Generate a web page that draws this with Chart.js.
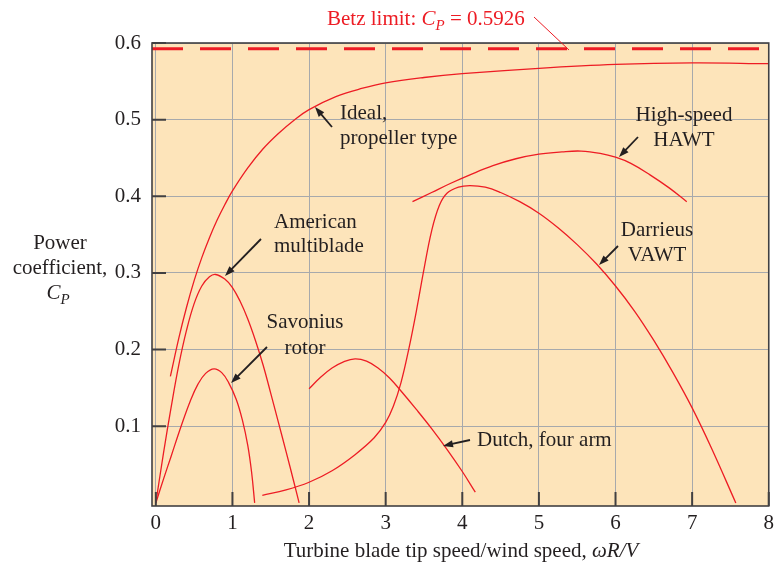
<!DOCTYPE html>
<html>
<head>
<meta charset="utf-8">
<script src="https://cdn.jsdelivr.net/npm/chart.js@4.4.1/dist/chart.umd.min.js"></script>
<style>
  html, body { margin: 0; padding: 0; background: #fff; }
</style>
</head>
<body>
<canvas id="cpChart" width="779" height="566"></canvas>
<script>
// axis ticks
const tipSpeedTicks = [0, 1, 2, 3, 4, 5, 6, 7, 8];
const cpTicks = [0.1, 0.2, 0.3, 0.4, 0.5, 0.6];

// Betz limit
const betzCp = 0.5926;

// curves (x = wR/V, y = Cp)
const idealX = [0.19, 0.3, 0.4, 0.5, 0.6, 0.7, 0.8, 0.9, 1.0, 1.2, 1.4, 1.6, 1.8, 2.0, 2.35, 2.7, 3.0, 3.5, 4.0, 5.0, 6.0, 7.0, 8.0];
const idealY = [0.165, 0.215, 0.255, 0.29, 0.32, 0.346, 0.369, 0.389, 0.407, 0.437, 0.462, 0.482, 0.499, 0.513, 0.53, 0.541, 0.548, 0.555, 0.56, 0.567, 0.572, 0.574, 0.573];

const multibladeX = [0, 0.1, 0.2, 0.3, 0.4, 0.5, 0.6, 0.7, 0.78, 0.9, 1.0, 1.1, 1.2, 1.3, 1.4, 1.5, 1.6, 1.7, 1.8, 1.87];
const multibladeY = [0, 0.065, 0.125, 0.18, 0.225, 0.26, 0.283, 0.295, 0.298, 0.292, 0.281, 0.263, 0.24, 0.212, 0.18, 0.143, 0.105, 0.067, 0.028, 0];

const savoniusX = [0, 0.1, 0.2, 0.33, 0.45, 0.55, 0.65, 0.76, 0.86, 0.95, 1.05, 1.13, 1.2, 1.25, 1.29];
const savoniusY = [0, 0.031, 0.061, 0.1, 0.133, 0.155, 0.169, 0.175, 0.17, 0.157, 0.135, 0.108, 0.075, 0.04, 0];

const dutchX = [2.0, 2.15, 2.3, 2.45, 2.6, 2.75, 2.9, 3.05, 3.2, 3.4, 3.6, 3.8, 4.0, 4.17];
const dutchY = [0.149, 0.164, 0.176, 0.184, 0.188, 0.185, 0.176, 0.163, 0.146, 0.122, 0.097, 0.07, 0.041, 0.014];

const darrieusX = [1.39, 1.7, 2.0, 2.3, 2.6, 2.85, 3.0, 3.1, 3.2, 3.3, 3.4, 3.5, 3.6, 3.7, 3.8, 3.95, 4.1, 4.3, 4.5, 4.75, 5.0, 5.25, 5.5, 5.75, 6.0, 6.25, 6.5, 6.75, 7.0, 7.25, 7.57];
const darrieusY = [0.01, 0.017, 0.027, 0.042, 0.063, 0.085, 0.105, 0.126, 0.157, 0.2, 0.25, 0.305, 0.355, 0.388, 0.404, 0.412, 0.414, 0.412, 0.405, 0.393, 0.378, 0.359, 0.337, 0.312, 0.283, 0.25, 0.212, 0.17, 0.124, 0.072, 0];

const hawtX = [3.35, 3.6, 3.85, 4.1, 4.4, 4.7, 5.0, 5.3, 5.55, 5.8, 6.0, 6.2, 6.45, 6.7, 6.93];
const hawtY = [0.393, 0.405, 0.417, 0.428, 0.44, 0.449, 0.455, 0.458, 0.459, 0.456, 0.451, 0.443, 0.428, 0.411, 0.393];

const xMin = -0.05, xMax = 8;
const yMin = -0.004, yMax = 0.6;

const RED = '#ed1c24';
const INK = '#231f20';
const PAPER = '#fde4ba';
const GRID = '#a7a9ac';
const FONT = "'Liberation Serif', 'Times New Roman', serif";
const FS = 21;

const toPoints = (xs, ys) => xs.map((x, i) => ({ x: x, y: ys[i] }));

function curve(xs, ys) {
  return {
    data: toPoints(xs, ys),
    borderColor: RED,
    borderWidth: 1.3,
    pointRadius: 0,
    fill: false,
    showLine: true,
    tension: 0.4
  };
}

// draw a line of text made of runs (some italic / subscript)
function drawRuns(ctx, runs, x, y, align, color) {
  const fontOf = r => (r.italic ? 'italic ' : '') + (r.sub ? Math.round(FS * 0.72) : FS) + 'px ' + FONT;
  let total = 0;
  runs.forEach(r => { ctx.font = fontOf(r); total += ctx.measureText(r.t).width; });
  let cx = align === 'center' ? x - total / 2 : x;
  ctx.fillStyle = color;
  ctx.textAlign = 'left';
  ctx.textBaseline = 'alphabetic';
  runs.forEach(r => {
    ctx.font = fontOf(r);
    ctx.fillText(r.t, cx, r.sub ? y + 5 : y);
    cx += ctx.measureText(r.t).width;
  });
}

function arrow(ctx, x1, y1, x2, y2) {
  const a = Math.atan2(y2 - y1, x2 - x1);
  const len = 10, wid = 3.6;
  ctx.beginPath();
  ctx.moveTo(x1, y1);
  ctx.lineTo(x2 - len * 0.7 * Math.cos(a), y2 - len * 0.7 * Math.sin(a));
  ctx.stroke();
  ctx.beginPath();
  ctx.moveTo(x2, y2);
  ctx.lineTo(x2 - len * Math.cos(a) + wid * Math.sin(a), y2 - len * Math.sin(a) - wid * Math.cos(a));
  ctx.lineTo(x2 - len * Math.cos(a) - wid * Math.sin(a), y2 - len * Math.sin(a) + wid * Math.cos(a));
  ctx.closePath();
  ctx.fill();
}

const notes = [
  { lines: ['Ideal,', 'propeller type'], x: 340, y: 119, dy: 24.5, align: 'left', arrow: [332, 127, 315, 107] },
  { lines: ['High-speed', 'HAWT'], x: 684, y: 121, dy: 25, align: 'center', arrow: [638, 137, 619, 157] },
  { lines: ['Darrieus', 'VAWT'], x: 657, y: 236, dy: 25, align: 'center', arrow: [618, 246, 599, 265] },
  { lines: ['American', 'multiblade'], x: 274, y: 228, dy: 24, align: 'left', arrow: [261, 239, 225, 276] },
  { lines: ['Savonius', 'rotor'], x: 305, y: 328, dy: 25.5, align: 'center', arrow: [267, 347, 231, 383] },
  { lines: ['Dutch, four arm'], x: 477, y: 446, dy: 0, align: 'left', arrow: [470, 440, 443, 446] }
];

const paperPlugin = {
  id: 'paper',
  beforeDraw(chart) {
    const { ctx, chartArea: a } = chart;
    ctx.save();
    ctx.fillStyle = '#fff';
    ctx.fillRect(0, 0, chart.width, chart.height);
    ctx.fillStyle = PAPER;
    ctx.fillRect(a.left, a.top, a.right - a.left, a.bottom - a.top);
    ctx.restore();
  }
};

const framePlugin = {
  id: 'frame',
  afterDatasetsDraw(chart) {
    const { ctx, chartArea: a, scales } = chart;
    ctx.save();
    ctx.strokeStyle = '#414042';
    ctx.lineWidth = 2;
    // inward tick marks
    ctx.beginPath();
    tipSpeedTicks.forEach(v => {
      const px = scales.x.getPixelForValue(v);
      ctx.moveTo(px, a.bottom);
      ctx.lineTo(px, a.bottom - 14);
    });
    cpTicks.forEach(v => {
      const py = scales.y.getPixelForValue(v);
      ctx.moveTo(a.left, py);
      ctx.lineTo(a.left + 14, py);
    });
    ctx.stroke();
    ctx.lineWidth = 1.6;
    ctx.strokeRect(a.left, a.top, a.right - a.left, a.bottom - a.top);
    ctx.restore();
  }
};

const notesPlugin = {
  id: 'notes',
  afterDraw(chart) {
    const ctx = chart.ctx;
    ctx.save();
    ctx.lineWidth = 1.8;
    notes.forEach(n => {
      n.lines.forEach((t, i) => drawRuns(ctx, [{ t: t }], n.x, n.y + i * n.dy, n.align, INK));
      ctx.strokeStyle = INK;
      ctx.fillStyle = INK;
      arrow(ctx, n.arrow[0], n.arrow[1], n.arrow[2], n.arrow[3]);
    });

    // Betz label with leader
    drawRuns(ctx, [{ t: 'Betz limit: ' }, { t: 'C', italic: true }, { t: 'P', italic: true, sub: true }, { t: ' = 0.5926' }], 327, 25, 'left', RED);
    ctx.strokeStyle = RED;
    ctx.lineWidth = 1;
    ctx.beginPath();
    ctx.moveTo(534, 17);
    ctx.lineTo(569, 50);
    ctx.stroke();

    // y axis title
    drawRuns(ctx, [{ t: 'Power' }], 60, 249, 'center', INK);
    drawRuns(ctx, [{ t: 'coefficient,' }], 60, 274, 'center', INK);
    drawRuns(ctx, [{ t: 'C', italic: true }, { t: 'P', italic: true, sub: true }], 58, 299, 'center', INK);

    // x axis title
    drawRuns(ctx, [{ t: 'Turbine blade tip speed/wind speed, ' }, { t: '\u03c9R/V', italic: true }], 461, 557, 'center', INK);
    ctx.restore();
  }
};

const datasets = [
  {
    data: toPoints([xMin, xMax], [betzCp, betzCp]),
    borderColor: RED,
    borderWidth: 3,
    borderDash: [31, 17],
    pointRadius: 0,
    showLine: true,
    fill: false
  },
  curve(idealX, idealY),
  curve(multibladeX, multibladeY),
  curve(savoniusX, savoniusY),
  curve(dutchX, dutchY),
  curve(darrieusX, darrieusY),
  curve(hawtX, hawtY)
];

new Chart(document.getElementById('cpChart').getContext('2d'), {
  type: 'scatter',
  data: { datasets: datasets },
  options: {
    responsive: false,
    animation: false,
    layout: { padding: { left: 0, top: 43, right: 7, bottom: 0 } },
    plugins: {
      legend: { display: false },
      tooltip: { enabled: false }
    },
    scales: {
      x: {
        type: 'linear',
        min: xMin,
        max: xMax,
        afterBuildTicks: scale => { scale.ticks = tipSpeedTicks.map(v => ({ value: v })); },
        afterFit: scale => { scale.height = 60; },
        grid: { color: GRID, lineWidth: 1, drawTicks: false },
        border: { display: false },
        ticks: {
          color: INK,
          padding: 5,
          maxRotation: 0,
          font: { family: FONT, size: FS },
          callback: v => String(v)
        }
      },
      y: {
        type: 'linear',
        min: yMin,
        max: yMax,
        afterBuildTicks: scale => { scale.ticks = cpTicks.map(v => ({ value: v })); },
        afterFit: scale => { scale.width = 152; },
        grid: { color: GRID, lineWidth: 1, drawTicks: false },
        border: { display: false },
        ticks: {
          color: INK,
          padding: 11,
          font: { family: FONT, size: FS },
          callback: v => v.toFixed(1)
        }
      }
    }
  },
  plugins: [paperPlugin, framePlugin, notesPlugin]
});
</script>
</body>
</html>
